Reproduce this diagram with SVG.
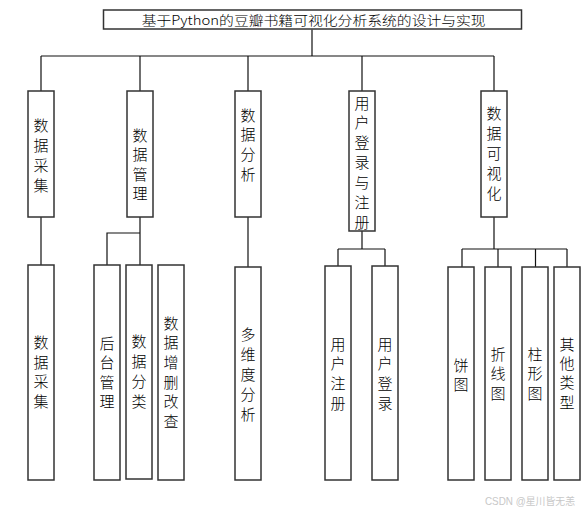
<svg xmlns="http://www.w3.org/2000/svg" width="582" height="513" viewBox="0 0 582 513">
<style>
.box{fill:#fff;stroke:#333;stroke-width:1.5}
.ln{stroke:#111;stroke-width:1.2;fill:none}
.t{font-family:"Noto Sans CJK SC","Liberation Sans",sans-serif;font-size:15px;font-weight:300;fill:#000;text-anchor:middle;dominant-baseline:central}
.title{font-family:"Noto Sans CJK SC","Liberation Serif",serif;font-size:13px;font-weight:300;fill:#000;dominant-baseline:central}
.wm{font-family:"Liberation Sans","Noto Sans CJK SC",sans-serif;font-size:10.5px;fill:#c8c8c8}
</style>
<rect width="582" height="513" fill="#fff"/>
<g id="connectors">
<path class="ln" d="M312 29.5V56M41 56H494M41 56V91M140 56V91M248 56V91M362 56V91M494 56V91"/>
<path class="ln" d="M41 217V265"/>
<path class="ln" d="M140 217V265M140 233H107V265"/>
<path class="ln" d="M248 217V267"/>
<path class="ln" d="M362 231V249M338 249H385M338 249V266M385 249V266"/>
<path class="ln" d="M494 217V249M462 249H567M462 249V267M498 249V267M535.5 249V267M567 249V267"/>
</g>
<g id="root"><rect class="box" x="103.5" y="10" width="418" height="19"/><text class="title" x="141.7" y="19.5" textLength="344" lengthAdjust="spacingAndGlyphs">基于Python的豆瓣书籍可视化分析系统的设计与实现</text></g>
<g id="n1"><rect class="box" x="28" y="91" width="26" height="126"/><text class="t"><tspan x="41" y="123.5">数</tspan><tspan x="41" y="143.5">据</tspan><tspan x="41" y="163.5">采</tspan><tspan x="41" y="183.5">集</tspan></text></g>
<g id="n2"><rect class="box" x="127" y="91" width="26" height="126"/><text class="t"><tspan x="140" y="133.5">数</tspan><tspan x="140" y="153">据</tspan><tspan x="140" y="172.5">管</tspan><tspan x="140" y="192">理</tspan></text></g>
<g id="n3"><rect class="box" x="235" y="91" width="26" height="126"/><text class="t"><tspan x="248" y="113.5">数</tspan><tspan x="248" y="133.2">据</tspan><tspan x="248" y="152.9">分</tspan><tspan x="248" y="172.5">析</tspan></text></g>
<g id="n4"><rect class="box" x="349" y="91" width="26" height="140"/><text class="t"><tspan x="362" y="101.5">用</tspan><tspan x="362" y="121.3">户</tspan><tspan x="362" y="141.1">登</tspan><tspan x="362" y="161">录</tspan><tspan x="362" y="180.8">与</tspan><tspan x="362" y="200.6">注</tspan><tspan x="362" y="220.5">册</tspan></text></g>
<g id="n5"><rect class="box" x="481" y="91" width="26" height="126"/><text class="t"><tspan x="494" y="111.5">数</tspan><tspan x="494" y="131.5">据</tspan><tspan x="494" y="151.5">可</tspan><tspan x="494" y="171.5">视</tspan><tspan x="494" y="191.5">化</tspan></text></g>
<g id="n11"><rect class="box" x="28" y="265" width="26" height="215"/><text class="t"><tspan x="41" y="341">数</tspan><tspan x="41" y="360.7">据</tspan><tspan x="41" y="380.4">采</tspan><tspan x="41" y="400">集</tspan></text></g>
<g id="n21"><rect class="box" x="94" y="265" width="26" height="215"/><text class="t"><tspan x="107" y="341.5">后</tspan><tspan x="107" y="361">台</tspan><tspan x="107" y="380.5">管</tspan><tspan x="107" y="400">理</tspan></text></g>
<g id="n22"><rect class="box" x="126" y="265" width="26" height="214"/><text class="t"><tspan x="139" y="340">数</tspan><tspan x="139" y="360">据</tspan><tspan x="139" y="380">分</tspan><tspan x="139" y="400">类</tspan></text></g>
<g id="n23"><rect class="box" x="158" y="265" width="26" height="215"/><text class="t"><tspan x="171" y="321.5">数</tspan><tspan x="171" y="341.2">据</tspan><tspan x="171" y="360.9">增</tspan><tspan x="171" y="380.6">删</tspan><tspan x="171" y="400.3">改</tspan><tspan x="171" y="420">查</tspan></text></g>
<g id="n31"><rect class="box" x="235" y="267" width="26" height="213"/><text class="t"><tspan x="248" y="332.5">多</tspan><tspan x="248" y="352.5">维</tspan><tspan x="248" y="372.5">度</tspan><tspan x="248" y="392.5">分</tspan><tspan x="248" y="412.5">析</tspan></text></g>
<g id="n41"><rect class="box" x="325" y="266" width="26" height="214"/><text class="t"><tspan x="338" y="342.5">用</tspan><tspan x="338" y="362.2">户</tspan><tspan x="338" y="381.9">注</tspan><tspan x="338" y="401.5">册</tspan></text></g>
<g id="n42"><rect class="box" x="372" y="266" width="26" height="214"/><text class="t"><tspan x="385" y="342.5">用</tspan><tspan x="385" y="362.2">户</tspan><tspan x="385" y="381.9">登</tspan><tspan x="385" y="401.5">录</tspan></text></g>
<g id="n51"><rect class="box" x="448" y="267" width="26" height="213"/><text class="t"><tspan x="461" y="363.5">饼</tspan><tspan x="461" y="382.5">图</tspan></text></g>
<g id="n52"><rect class="box" x="485" y="267" width="26" height="213"/><text class="t"><tspan x="498" y="352.5">折</tspan><tspan x="498" y="372">线</tspan><tspan x="498" y="391.5">图</tspan></text></g>
<g id="n53"><rect class="box" x="522" y="267" width="26" height="213"/><text class="t"><tspan x="535" y="352.5">柱</tspan><tspan x="535" y="372">形</tspan><tspan x="535" y="391.5">图</tspan></text></g>
<g id="n54"><rect class="box" x="554" y="267" width="26" height="213"/><text class="t"><tspan x="567" y="342.5">其</tspan><tspan x="567" y="361.8">他</tspan><tspan x="567" y="381.2">类</tspan><tspan x="567" y="400.5">型</tspan></text></g>
<text class="wm" x="485" y="505" textLength="90" lengthAdjust="spacingAndGlyphs">CSDN @星川皆无恙</text>
</svg>
